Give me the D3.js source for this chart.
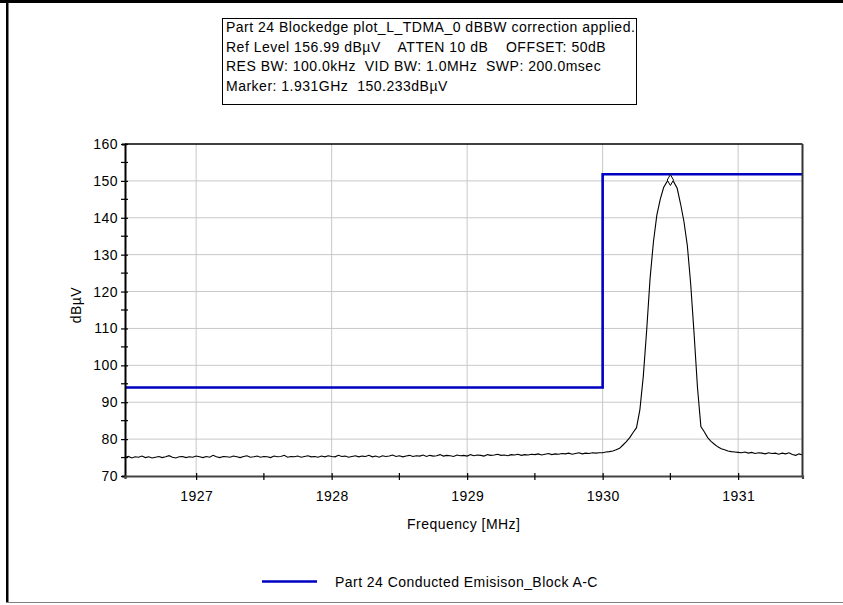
<!DOCTYPE html>
<html>
<head>
<meta charset="utf-8">
<script src="https://cdn.jsdelivr.net/npm/d3@7/dist/d3.min.js"></script>
<style>
  html, body { margin: 0; padding: 0; background: #fff; }
  svg { display: block; }
  text { font-family: "Liberation Sans", Arial, sans-serif; fill: #000; white-space: pre; }
</style>
</head>
<body>
<svg id="chart" width="843" height="605"></svg>
<script>
// Header annotation lines
const headerLines = [
  "Part 24 Blockedge plot_L_TDMA_0 dBBW correction applied.",
  "Ref Level 156.99 dB\u00b5V    ATTEN 10 dB    OFFSET: 50dB",
  "RES BW: 100.0kHz  VID BW: 1.0MHz  SWP: 200.0msec",
  "Marker: 1.931GHz  150.233dB\u00b5V"
];

// Sweep: start frequency and point spacing of the measured trace
const sweepStartMHz = 1926.475;
const sweepStepMHz = 0.025;

// Measured trace levels (dBµV), one per sweep point
const traceLevels = [
  75.0, 75.3, 74.9, 75.2, 75.1, 75.4, 75.0, 75.2, 74.9, 75.1,
  75.3, 75.0, 75.2, 75.5, 75.1, 74.9, 75.2, 75.3, 75.0, 75.2,
  75.1, 75.4, 75.2, 75.0, 75.3, 75.1, 75.6, 75.2, 75.0, 75.3,
  75.2, 75.1, 75.4, 75.2, 75.0, 75.3, 75.5, 75.1, 75.2, 75.4,
  75.1, 75.3, 75.2, 75.0, 75.4, 75.2, 75.3, 75.6, 75.1, 75.3,
  75.2, 75.4, 75.1, 75.3, 75.5, 75.2, 75.3, 75.1, 75.4, 75.2,
  75.5, 75.3, 75.2, 75.6, 75.3, 75.4, 75.1, 75.3, 75.5, 75.2,
  75.4, 75.3, 75.6, 75.2, 75.4, 75.1, 75.5, 75.3, 75.4, 75.7,
  75.3, 75.5, 75.2, 75.4, 75.6, 75.3, 75.5, 75.4, 75.7, 75.3,
  75.6, 75.4, 75.5, 75.8, 75.4, 75.6, 75.5, 75.3, 75.7, 75.5,
  75.6, 75.4, 75.8, 75.5, 75.7, 75.6, 75.4, 75.8, 75.6, 75.7,
  75.9, 75.6, 75.7, 75.5, 75.8, 75.7, 75.9, 75.6, 75.8, 75.7,
  75.9, 75.8, 76.0, 75.7, 75.9, 76.1, 75.8, 76.0, 75.9, 76.1,
  76.0, 76.2, 75.9, 76.1, 76.3, 76.0, 76.2, 76.1, 76.3, 76.2,
  76.3, 76.3,
  76.5, 76.6, 76.8, 77.1, 77.5, 78.4, 79.3, 80.4, 81.8, 83.1,
  88.0, 97.0, 109.5, 123.5, 133.5, 140.7, 145.0, 148.2, 149.8, 150.233,
  149.7, 148.0, 143.8, 139.0, 132.5, 122.0, 108.5, 94.0, 83.4, 82.0,
  80.4, 79.4, 78.6, 77.9, 77.4, 77.1, 76.8, 76.6, 76.5, 76.4,
  76.3, 76.5, 76.2, 76.4, 76.1, 76.3, 76.2, 76.0, 76.3, 76.1,
  76.2, 75.9, 76.2, 76.0, 76.3, 75.8, 75.6, 76.0, 75.7
];

// Limit line (Part 24 block edge)
const limitFreqs = [1926.475, 1930.0, 1930.0, 1931.475];
const limitLevels = [94, 94, 151.8, 151.8];

// Peak marker
const markerFreq = 1930.5;
const markerLevel = 150.233;

// Axis ticks
const xDomain = [1926.475, 1931.475];
const yDomain = [70, 160];
const xMajorTicks = [1927, 1928, 1929, 1930, 1931];
const xMinorTicks = [1927.5, 1928.5, 1929.5, 1930.5, 1931.5];
const yMajorTicks = [70, 80, 90, 100, 110, 120, 130, 140, 150, 160];
const yMinorTicks = [75, 85, 95, 105, 115, 125, 135, 145, 155];

const xLabel = "Frequency [MHz]";
const yLabel = "dB\u00b5V";
const legendLabel = "Part 24 Conducted Emisison_Block A-C";

const FONT_SIZE = 14;
const LETTER_SPACING = 0.45;

const svg = d3.select("#chart");
const plot = { left: 125, right: 802.5, top: 144, bottom: 476 };

const x = d3.scaleLinear().domain(xDomain).range([plot.left, plot.right]);
const y = d3.scaleLinear().domain(yDomain).range([plot.bottom, plot.top]);

// Window frame
svg.append("rect").attr("x", 0).attr("y", 0).attr("width", 843).attr("height", 3).attr("fill", "#000");
svg.append("rect").attr("x", 6).attr("y", 0).attr("width", 2.5).attr("height", 603).attr("fill", "#000");
svg.append("line").attr("x1", 6).attr("x2", 843).attr("y1", 602.5).attr("y2", 602.5)
  .attr("stroke", "#808080").attr("stroke-width", 1);

// Header box
const hdr = svg.append("g");
hdr.append("rect").attr("x", 222.5).attr("y", 18.5).attr("width", 414).attr("height", 86)
  .attr("fill", "#fff").attr("stroke", "#000").attr("stroke-width", 1);
hdr.selectAll("text").data(headerLines).join("text")
  .attr("x", 226).attr("y", (d, i) => 32 + i * 19.6)
  .attr("font-size", FONT_SIZE).attr("letter-spacing", 0.5)
  .text(d => d);

// Grid
const grid = svg.append("g");
grid.selectAll("line.gx").data(xMajorTicks).join("line")
  .attr("x1", d => x(d)).attr("x2", d => x(d))
  .attr("y1", plot.top).attr("y2", plot.bottom)
  .attr("stroke", "#c8c8c8").attr("stroke-width", 1);
grid.selectAll("line.gy").data(yMajorTicks.filter(v => v > 70 && v < 160)).join("line")
  .attr("x1", plot.left).attr("x2", plot.right)
  .attr("y1", d => y(d)).attr("y2", d => y(d))
  .attr("stroke", "#c8c8c8").attr("stroke-width", 1);

// Trace
const trace = traceLevels.map((v, i) => [sweepStartMHz + i * sweepStepMHz, v]);
svg.append("path").datum(trace)
  .attr("fill", "none").attr("stroke", "#000").attr("stroke-width", 1.1)
  .attr("d", d3.line().x(d => x(d[0])).y(d => y(d[1])));

// Limit line
const limit = limitFreqs.map((f, i) => [f, limitLevels[i]]);
svg.append("path").datum(limit)
  .attr("fill", "none").attr("stroke", "#0000c0").attr("stroke-width", 2.6)
  .attr("d", d3.line().x(d => x(d[0])).y(d => y(d[1])));

// Plot frame: top and right edges
svg.append("line").attr("x1", plot.left).attr("x2", plot.right).attr("y1", plot.top).attr("y2", plot.top)
  .attr("stroke", "#000").attr("stroke-width", 1.5);
svg.append("line").attr("x1", plot.right).attr("x2", plot.right).attr("y1", plot.top).attr("y2", plot.bottom)
  .attr("stroke", "#333").attr("stroke-width", 2);

// Y axis
const yAxis = d3.axisLeft(y).tickValues(yMajorTicks).tickSize(3).tickPadding(4)
  .tickFormat(d3.format("d"));
const gy = svg.append("g").attr("transform", `translate(${plot.left},0)`).call(yAxis);
gy.select(".domain").attr("stroke", "#000").attr("stroke-width", 2);
gy.selectAll(".tick line").attr("x1", 3).attr("x2", -4).attr("stroke", "#000").attr("stroke-width", 1.2);
gy.selectAll(".tick text").attr("font-size", FONT_SIZE).attr("letter-spacing", LETTER_SPACING)
  .attr("font-family", "Liberation Sans, Arial, sans-serif").attr("fill", "#000");
gy.selectAll("line.minor").data(yMinorTicks).join("line").attr("class", "minor")
  .attr("x1", 3).attr("x2", -4).attr("y1", d => y(d)).attr("y2", d => y(d))
  .attr("stroke", "#000").attr("stroke-width", 1.2);

// X axis
const xAxis = d3.axisBottom(x).tickValues(xMajorTicks).tickSize(3).tickPadding(12)
  .tickFormat(d3.format("d"));
const gx = svg.append("g").attr("transform", `translate(0,${plot.bottom})`).call(xAxis);
gx.select(".domain").attr("stroke", "#444").attr("stroke-width", 2.2);
gx.selectAll(".tick line").attr("y1", -3).attr("y2", 4).attr("stroke", "#000").attr("stroke-width", 1.2);
gx.selectAll(".tick text").attr("font-size", FONT_SIZE).attr("letter-spacing", LETTER_SPACING)
  .attr("font-family", "Liberation Sans, Arial, sans-serif").attr("fill", "#000");
gx.selectAll("line.minor").data(xMinorTicks.filter(v => v <= xDomain[1])).join("line").attr("class", "minor")
  .attr("x1", d => x(d)).attr("x2", d => x(d)).attr("y1", -3).attr("y2", 4)
  .attr("stroke", "#000").attr("stroke-width", 1.2);

// Axis titles
svg.append("text").attr("x", (plot.left + plot.right) / 2).attr("y", 529)
  .attr("text-anchor", "middle").attr("font-size", FONT_SIZE).attr("letter-spacing", LETTER_SPACING)
  .text(xLabel);
svg.append("text").attr("transform", "translate(81,305) rotate(-90)")
  .attr("text-anchor", "middle").attr("font-size", FONT_SIZE).attr("letter-spacing", LETTER_SPACING)
  .text(yLabel);

// Peak marker
svg.append("path")
  .attr("d", d3.symbol().type(d3.symbolDiamond).size(34)())
  .attr("transform", `translate(${x(markerFreq)},${y(markerLevel)})`)
  .attr("fill", "#fff").attr("stroke", "#000").attr("stroke-width", 1);

// Legend
svg.append("line").attr("x1", 262).attr("x2", 317).attr("y1", 581.5).attr("y2", 581.5)
  .attr("stroke", "#0000c0").attr("stroke-width", 2.6);
svg.append("text").attr("x", 335).attr("y", 586.5)
  .attr("font-size", FONT_SIZE).attr("letter-spacing", LETTER_SPACING)
  .text(legendLabel);
</script>
</body>
</html>
